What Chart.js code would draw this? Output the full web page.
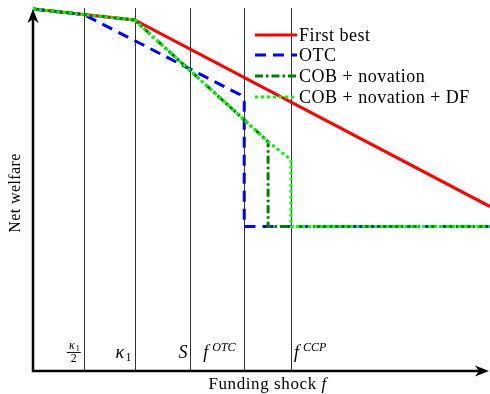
<!DOCTYPE html>
<html>
<head>
<meta charset="utf-8">
<script src="https://cdn.jsdelivr.net/npm/chart.js@4.4.1/dist/chart.umd.min.js"></script>
<style>
  html, body { margin: 0; padding: 0; background: #fff; }
  #wrap { width: 490px; height: 394px; position: relative; }
</style>
</head>
<body>
<div id="wrap"><canvas id="welfareChart"></canvas></div>
<script>
const X_MAX = 9;
const Y_MAX = 10;
const SERIF = '"Liberation Serif", "DejaVu Serif", serif';

const seriesNames = ["First best", "OTC", "COB + novation", "COB + novation + DF"];

// welfare curves (arbitrary units)
const firstBestX = [0, 2, 9];
const firstBestY = [9.97, 9.67, 4.53];

const otcX = [0, 1, 4.08, 4.16, 4.16, 9];
const otcY = [9.97, 9.82, 7.61, 7.42, 3.98, 3.98];

const cobX = [0, 2, 4.63, 4.63, 9];
const cobY = [9.97, 9.67, 6.32, 3.98, 3.98];

const cobDfX = [0, 2, 4.63, 5.08, 5.08, 9];
const cobDfY = [9.97, 9.67, 6.32, 5.82, 3.98, 3.98];

// thresholds on the funding shock axis
const shockMarks = [1, 2, 3.1, 4.16, 5.08];
const shockLabels = ["kappaHalf", "kappa", "S", "fOTC", "fCCP"];

function toPoints(xs, ys) {
  return xs.map((x, i) => ({ x, y: ys[i] }));
}

function drawArrowHead(ctx, x, y, angle) {
  ctx.save();
  ctx.translate(x, y);
  ctx.rotate(angle);
  ctx.beginPath();
  ctx.moveTo(0, 0);
  ctx.lineTo(-14, -5.5);
  ctx.lineTo(-10, 0);
  ctx.lineTo(-14, 5.5);
  ctx.closePath();
  ctx.fill();
  ctx.restore();
}

function drawMarkLabel(ctx, label, px) {
  const base = 358;
  ctx.fillStyle = "#000";
  ctx.textBaseline = "alphabetic";
  if (label === "kappaHalf") {
    const cx = px - 10;
    ctx.textAlign = "center";
    ctx.font = `italic 12px ${SERIF}`;
    ctx.fillText("κ", cx - 2, 349);
    ctx.font = `8px ${SERIF}`;
    ctx.fillText("1", cx + 4, 351);
    ctx.fillRect(cx - 7, 352, 14, 0.9);
    ctx.font = `12px ${SERIF}`;
    ctx.fillText("2", cx, 362);
  } else if (label === "kappa") {
    ctx.textAlign = "left";
    ctx.font = `italic 18px ${SERIF}`;
    ctx.fillText("κ", px - 19, base);
    ctx.font = `12px ${SERIF}`;
    ctx.fillText("1", px - 9, base + 3);
  } else if (label === "S") {
    ctx.textAlign = "right";
    ctx.font = `italic 18px ${SERIF}`;
    ctx.fillText("S", px - 3, base);
  } else if (label === "fOTC" || label === "fCCP") {
    const sup = label.slice(1);
    const startX = label === "fOTC" ? px - 41 : px + 3;
    ctx.textAlign = "left";
    ctx.font = `italic 18px ${SERIF}`;
    ctx.fillText("f", startX, base);
    ctx.font = `italic 12px ${SERIF}`;
    ctx.fillText(sup, startX + 9, base - 7);
  }
}

const decorPlugin = {
  id: "decor",
  beforeDatasetsDraw(chart) {
    const { ctx, chartArea, scales } = chart;
    ctx.save();
    ctx.strokeStyle = "#333";
    ctx.lineWidth = 1;
    shockMarks.forEach((mark) => {
      const px = Math.round(scales.x.getPixelForValue(mark)) + 0.5;
      ctx.beginPath();
      ctx.moveTo(px, chartArea.top);
      ctx.lineTo(px, chartArea.bottom);
      ctx.stroke();
    });
    ctx.restore();
  },
  afterDraw(chart) {
    const { ctx, chartArea, scales } = chart;
    const left = chartArea.left;
    const bottom = chartArea.bottom;
    ctx.save();

    // axes with arrows
    ctx.strokeStyle = "#000";
    ctx.fillStyle = "#000";
    ctx.lineWidth = 2.5;
    ctx.beginPath();
    ctx.moveTo(left, bottom + 1);
    ctx.lineTo(left, chartArea.top + 6);
    ctx.moveTo(left - 1, bottom);
    ctx.lineTo(chartArea.right - 6, bottom);
    ctx.stroke();
    drawArrowHead(ctx, left, chartArea.top + 1, -Math.PI / 2);
    drawArrowHead(ctx, chartArea.right - 1, bottom, 0);

    // labels at the thresholds
    shockMarks.forEach((mark, i) => {
      drawMarkLabel(ctx, shockLabels[i], scales.x.getPixelForValue(mark));
    });

    // axis titles
    ctx.fillStyle = "#000";
    ctx.textBaseline = "alphabetic";
    ctx.letterSpacing = "0.6px";
    ctx.font = `17px ${SERIF}`;
    ctx.textAlign = "left";
    const title = "Funding shock ";
    const titleWidth = ctx.measureText(title).width;
    const tx = 268 - (titleWidth + 6) / 2;
    ctx.fillText(title, tx, 389);
    ctx.font = `italic 17px ${SERIF}`;
    ctx.fillText("f", tx + titleWidth, 389);

    ctx.save();
    ctx.translate(20, 193);
    ctx.rotate(-Math.PI / 2);
    ctx.textAlign = "center";
    ctx.letterSpacing = "0.4px";
    ctx.font = `16px ${SERIF}`;
    ctx.fillText("Net welfare", 0, 0);
    ctx.restore();

    // legend
    const rows = [35, 55, 76, 97];
    ctx.letterSpacing = "0.5px";
    chart.data.datasets.forEach((ds, i) => {
      const y = rows[i];
      ctx.strokeStyle = ds.borderColor;
      ctx.lineWidth = ds.borderWidth;
      ctx.setLineDash(ds.borderDash || []);
      ctx.beginPath();
      ctx.moveTo(255, y);
      ctx.lineTo(297, y);
      ctx.stroke();
      ctx.setLineDash([]);
      ctx.fillStyle = "#000";
      ctx.font = `18px ${SERIF}`;
      ctx.textAlign = "left";
      ctx.textBaseline = "middle";
      ctx.fillText(ds.label, 299, y + 1);
    });

    ctx.restore();
  }
};

function renderChart() {
  const canvas = document.getElementById("welfareChart");

  new Chart(canvas, {
    type: "scatter",
    data: {
      datasets: [
        {
          label: seriesNames[0],
          data: toPoints(firstBestX, firstBestY),
          borderColor: "#ff0000",
          borderWidth: 3,
          order: 4
        },
        {
          label: seriesNames[1],
          data: toPoints(otcX, otcY),
          borderColor: "#0000ff",
          borderWidth: 3,
          borderDash: [11, 7],
          order: 3
        },
        {
          label: seriesNames[2],
          data: toPoints(cobX, cobY),
          borderColor: "#008000",
          borderWidth: 3,
          borderDash: [8, 3, 2.5, 3],
          order: 2
        },
        {
          label: seriesNames[3],
          data: toPoints(cobDfX, cobDfY),
          borderColor: "#00ff00",
          borderWidth: 3,
          borderDash: [3, 3],
          order: 1
        }
      ].map((ds) => ({ ...ds, showLine: true, pointRadius: 0, tension: 0, fill: false, clip: 6 }))
    },
    options: {
      responsive: false,
      animation: false,
      events: [],
      layout: { padding: { left: 33, right: 0, top: 8, bottom: 23 } },
      scales: {
        x: { type: "linear", min: 0, max: X_MAX, display: false },
        y: { type: "linear", min: 0, max: Y_MAX, display: false }
      },
      plugins: {
        legend: { display: false },
        tooltip: { enabled: false }
      }
    },
    plugins: [decorPlugin]
  });
}

const cv = document.getElementById("welfareChart");
cv.width = 490;
cv.height = 394;
document.addEventListener("DOMContentLoaded", renderChart);
</script>
</body>
</html>
